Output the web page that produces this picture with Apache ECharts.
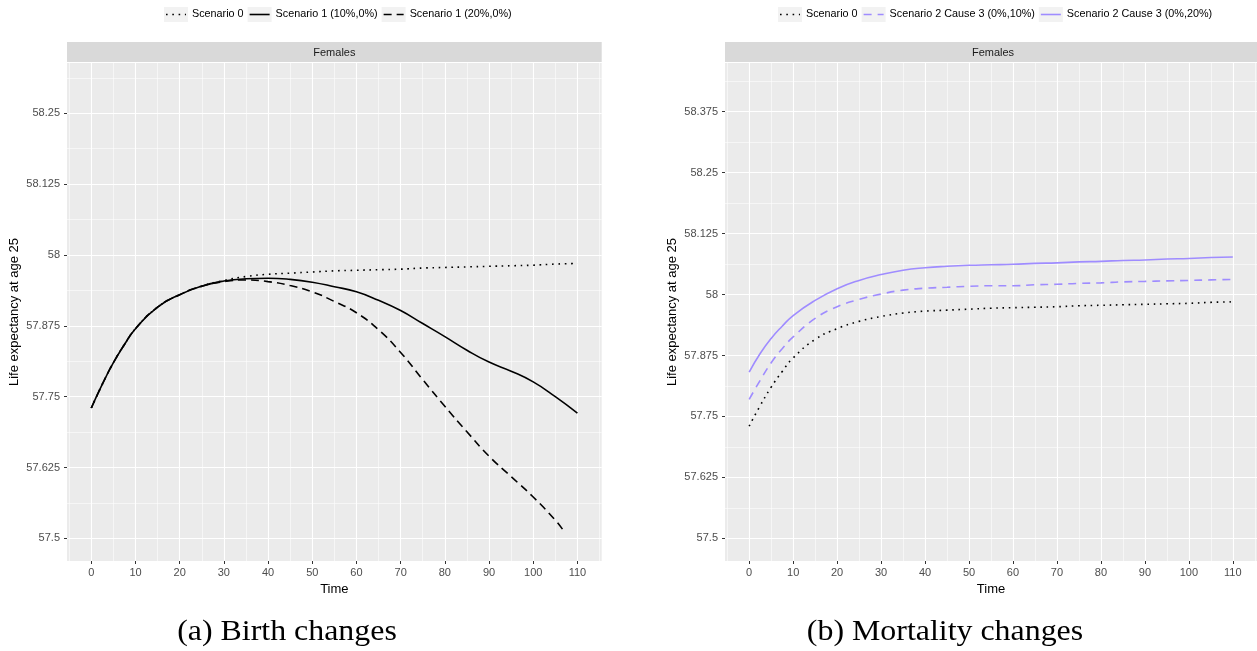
<!DOCTYPE html>
<html><head><meta charset="utf-8">
<script src="https://cdn.jsdelivr.net/npm/echarts@6/dist/echarts.min.js"></script>
<style>html,body{margin:0;padding:0;background:#fff}#c{width:1257px;height:651px}</style>
</head><body><div id="c"></div>
<script>
// ---------- data ----------
const time = [0, 2.5, 5, 7.5, 10, 15, 20, 25, 30, 35, 40, 45, 50, 55, 60, 65, 70, 75, 80, 85, 90, 95, 100, 105, 110];
const scenario0 = [57.730, 57.772, 57.810, 57.842, 57.870, 57.908, 57.930, 57.945, 57.955, 57.962, 57.966, 57.968, 57.970, 57.972, 57.973, 57.974, 57.975, 57.977, 57.978, 57.979, 57.980, 57.981, 57.982, 57.984, 57.985];
const scenario1_10 = [57.730, 57.772, 57.810, 57.842, 57.870, 57.908, 57.930, 57.945, 57.954, 57.958, 57.959, 57.957, 57.952, 57.944, 57.935, 57.920, 57.902, 57.879, 57.856, 57.832, 57.811, 57.795, 57.776, 57.750, 57.721];
const time20 = [0, 2.5, 5, 7.5, 10, 15, 20, 25, 30, 35, 40, 45, 50, 55, 60, 65, 70, 75, 80, 85, 90, 95, 100, 105, 107];
const scenario1_20 = [57.730, 57.772, 57.810, 57.842, 57.870, 57.908, 57.930, 57.945, 57.953, 57.956, 57.953, 57.946, 57.935, 57.918, 57.898, 57.868, 57.828, 57.780, 57.733, 57.688, 57.645, 57.609, 57.573, 57.532, 57.512];
const scenario2c3_10 = [57.785, 57.824, 57.860, 57.889, 57.913, 57.951, 57.975, 57.990, 58.001, 58.009, 58.013, 58.015, 58.017, 58.018, 58.018, 58.020, 58.021, 58.023, 58.024, 58.026, 58.027, 58.028, 58.029, 58.030, 58.031];
const scenario2c3_20 = [57.841, 57.879, 57.910, 57.935, 57.957, 57.988, 58.012, 58.029, 58.041, 58.050, 58.055, 58.058, 58.060, 58.061, 58.062, 58.064, 58.065, 58.067, 58.068, 58.070, 58.071, 58.073, 58.074, 58.076, 58.077];

const xTicks = [0, 10, 20, 30, 40, 50, 60, 70, 80, 90, 100, 110];
const xMinor = [-5, 5, 15, 25, 35, 45, 55, 65, 75, 85, 95, 105, 115];
const yTicksA = [57.5, 57.625, 57.75, 57.875, 58, 58.125, 58.25];
const yMinorA = [57.5625, 57.6875, 57.8125, 57.9375, 58.0625, 58.1875, 58.3125];
const yTicksB = [57.5, 57.625, 57.75, 57.875, 58, 58.125, 58.25, 58.375];
const yMinorB = [57.5625, 57.6875, 57.8125, 57.9375, 58.0625, 58.1875, 58.3125, 58.4375];

const namesA = ['Scenario 0', 'Scenario 1 (10%,0%)', 'Scenario 1 (20%,0%)'];
const namesB = ['Scenario 0', 'Scenario 2 Cause 3 (0%,10%)', 'Scenario 2 Cause 3 (0%,20%)'];
const caption = ['(a) Birth changes', '(b) Mortality changes'];

// ---------- styles ----------
const FONT = '"Liberation Sans", Arial, sans-serif';
const PURPLE = '#9f8cff';
const LW = 1.6;
const DOT = [1.6, 4.7];
const DASH_K = [8, 5];
const DASH_P = [8, 6];
const styleA = [
  {color: '#000', dash: DOT},
  {color: '#000', dash: 'solid'},
  {color: '#000', dash: DASH_K}
];
const styleB = [
  {color: '#000', dash: DOT},
  {color: PURPLE, dash: DASH_P},
  {color: PURPLE, dash: 'solid'}
];

const G = [
  {left: 67, top: 63, width: 534.7, height: 498, ymin: 57.46, ymax: 58.3388, ticks: yTicksA, minor: yMinorA, nameGap: 46},
  {left: 725, top: 63, width: 536, height: 498, ymin: 57.4534, ymax: 58.475, ticks: yTicksB, minor: yMinorB, nameGap: 46}
];

function pairs(xs, ys) { return xs.map((x, i) => [x, ys[i]]); }
function fmt(v) { return String(+(+v).toFixed(3)); }

const grids = [], xAxes = [], yAxes = [];
G.forEach((g, gi) => {
  grids.push({left: g.left, top: g.top, width: g.width, height: g.height, show: true,
    backgroundColor: '#ebebeb', borderWidth: 0, containLabel: false});
  // major x
  xAxes.push({gridIndex: gi, type: 'value', min: -5.5, max: 115.5, position: 'bottom',
    axisLine: {show: false, onZero: false},
    axisTick: {show: true, length: 3, customValues: xTicks, lineStyle: {color: '#333', width: 1}},
    axisLabel: {customValues: xTicks, color: '#4d4d4d', fontSize: 11, fontFamily: FONT, margin: 6, formatter: fmt},
    splitLine: {show: true, lineStyle: {color: '#ffffff', width: 1.1}},
    name: 'Time', nameLocation: 'middle', nameGap: 19,
    nameTextStyle: {color: '#000', fontSize: 13, fontFamily: FONT}, z: 1});
  // minor x
  xAxes.push({gridIndex: gi, type: 'value', min: -5.5, max: 115.5, position: 'bottom',
    axisLine: {show: false, onZero: false}, axisTick: {show: false, customValues: xMinor},
    axisLabel: {show: false}, splitLine: {show: true, lineStyle: {color: '#ffffff', width: 0.55}}, z: 0});
  // major y
  yAxes.push({gridIndex: gi, type: 'value', min: g.ymin, max: g.ymax, position: 'left',
    axisLine: {show: false, onZero: false},
    axisTick: {show: true, length: 3, customValues: g.ticks, lineStyle: {color: '#333', width: 1}},
    axisLabel: {customValues: g.ticks, color: '#4d4d4d', fontSize: 11, fontFamily: FONT, margin: 7, formatter: fmt},
    splitLine: {show: true, lineStyle: {color: '#ffffff', width: 1.1}},
    name: 'Life expectancy at age 25', nameLocation: 'middle', nameGap: g.nameGap, nameRotate: 90,
    nameTextStyle: {color: '#000', fontSize: 13, fontFamily: FONT}, z: 1});
  // minor y
  yAxes.push({gridIndex: gi, type: 'value', min: g.ymin, max: g.ymax, position: 'left',
    axisLine: {show: false, onZero: false}, axisTick: {show: false, customValues: g.minor},
    axisLabel: {show: false}, splitLine: {show: true, lineStyle: {color: '#ffffff', width: 0.55}}, z: 0});
});

function mkSeries(name, data, st, gi) {
  return {name: name, type: 'line', xAxisIndex: gi * 2, yAxisIndex: gi * 2, data: data,
    symbol: 'none', smooth: 0.5, silent: true, z: 5,
    lineStyle: {color: st.color, width: LW, type: st.dash, cap: 'butt'}};
}
const series = [
  mkSeries(namesA[0], pairs(time, scenario0), styleA[0], 0),
  mkSeries(namesA[1], pairs(time, scenario1_10), styleA[1], 0),
  mkSeries(namesA[2], pairs(time20, scenario1_20), styleA[2], 0),
  mkSeries(namesB[0] + ' ', pairs(time, scenario0), styleB[0], 1),
  mkSeries(namesB[1], pairs(time, scenario2c3_10), styleB[1], 1),
  mkSeries(namesB[2], pairs(time, scenario2c3_20), styleB[2], 1)
];

// ---------- legend (drawn as graphic: grey key boxes, line keys, text) ----------
const LFS = 10.8;
const mctx = document.createElement('canvas').getContext('2d');
mctx.font = LFS + 'px ' + FONT;
function legendGraphic(x0, yc, names, styles) {
  const out = [];
  let x = x0;
  names.forEach((nm, i) => {
    out.push({type: 'rect', shape: {x: x, y: yc - 7.5, width: 24, height: 15}, style: {fill: '#f2f2f2'}, silent: true});
    const d = styles[i].dash;
    out.push({type: 'line', shape: {x1: x + 2, y1: yc, x2: x + 22, y2: yc},
      style: {stroke: styles[i].color, lineWidth: LW, lineDash: d === 'solid' ? null : d, lineCap: 'butt'}, silent: true});
    out.push({type: 'text', x: x + 28, y: yc, style: {text: nm, font: LFS + 'px ' + FONT, fill: '#000', verticalAlign: 'middle', align: 'left'}, silent: true});
    x += 24 + 4 + mctx.measureText(nm).width + 4;
  });
  return out;
}

const graphics = [];
// strips
G.forEach(g => {
  graphics.push({type: 'rect', shape: {x: g.left, y: 42, width: g.width, height: 20}, style: {fill: '#d9d9d9'}, silent: true});
  graphics.push({type: 'text', x: g.left + g.width / 2, y: 53,
    style: {text: 'Females', font: '11px ' + FONT, fill: '#1a1a1a', align: 'center', verticalAlign: 'middle'}, silent: true});
});
graphics.push(...legendGraphic(164, 14.5, namesA, styleA));
graphics.push(...legendGraphic(778, 14.5, namesB, styleB));
// captions
const CAPFONT = '29px "Liberation Serif", "DejaVu Serif", serif';
graphics.push({type: 'text', x: 287, y: 632, scaleX: 1.1, style: {text: caption[0], font: CAPFONT, fill: '#000', align: 'center', verticalAlign: 'middle'}, silent: true});
graphics.push({type: 'text', x: 945, y: 632, scaleX: 1.1, style: {text: caption[1], font: CAPFONT, fill: '#000', align: 'center', verticalAlign: 'middle'}, silent: true});

const chart = echarts.init(document.getElementById('c'), null, {renderer: 'canvas'});
chart.setOption({
  animation: false,
  backgroundColor: '#ffffff',
  grid: grids,
  xAxis: xAxes,
  yAxis: yAxes,
  series: series,
  graphic: graphics
});
</script>
</body></html>
